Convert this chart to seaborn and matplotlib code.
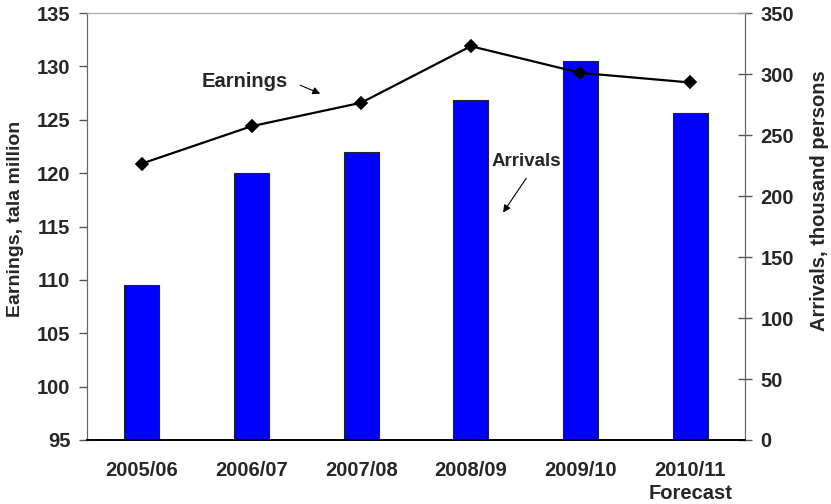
import numpy as np
import pandas as pd
import matplotlib
matplotlib.use("Agg")
import matplotlib.pyplot as plt
from matplotlib.ticker import FixedLocator
import seaborn as sns

# -------------------------------
# Data
# -------------------------------
years = ["2005/06", "2006/07", "2007/08", "2008/09", "2009/10", "2010/11\nForecast"]
earnings = [120.9, 124.4, 126.6, 131.9, 129.4, 128.5]   # tala million (left axis)
arrivals = [127, 219, 236, 279, 311, 268]               # thousand persons (right axis)

df = pd.DataFrame({"Year": years, "Earnings": earnings, "Arrivals": arrivals})

# -------------------------------
# Style
# -------------------------------
sns.set_style("white")
plt.rcParams["font.family"] = ["Liberation Sans", "DejaVu Sans"]
plt.rcParams["font.weight"] = "bold"
plt.rcParams["axes.labelweight"] = "bold"

FS = 14.5

fig = plt.figure(figsize=(8.31, 5.04), dpi=100)
ax = fig.add_axes([0.1047, 0.127, 0.7918, 0.847])
ax2 = ax.twinx()

# bars on the right axis
sns.barplot(data=df, x="Year", y="Arrivals", ax=ax2, color="#0000FF",
            width=0.32, edgecolor="#222222", linewidth=0.8, saturation=1)

# earnings line on the left axis
sns.pointplot(data=df, x="Year", y="Earnings", ax=ax, color="black",
              markers="D", markersize=6, linewidth=1.6)

ax.set_zorder(ax2.get_zorder() + 1)
ax.patch.set_visible(False)

ax.set_xlim(-0.5, 5.5)
ax.set_ylim(95, 135)
ax2.set_ylim(0, 350)

left_ticks = np.arange(95, 136, 5)
right_ticks = np.arange(0, 351, 50)
ax.set_yticks(left_ticks)
ax.set_yticklabels([str(t) for t in left_ticks], fontsize=FS, fontweight="bold")
ax2.set_yticks(right_ticks)
ax2.set_yticklabels([str(t) for t in right_ticks], fontsize=FS, fontweight="bold")
ax.set_xticks(range(len(years)))
ax.set_xticklabels(years, fontsize=FS, fontweight="bold", linespacing=1.25)

ax.set_xlabel("")
ax2.set_xlabel("")
ax.set_ylabel("Earnings, tala million", fontsize=14, fontweight="bold", va="center")
ax.yaxis.set_label_coords(-0.109, 0.518)
ax2.set_ylabel("Arrivals, thousand persons", fontsize=FS, fontweight="bold", va="center")
ax2.yaxis.set_label_coords(1.1125, 0.56)

# ticks
ax.tick_params(axis="x", which="major", length=0, pad=15)
ax.xaxis.set_minor_locator(FixedLocator(np.arange(-0.5, 6.0, 1.0)))
ax.tick_params(axis="x", which="minor", length=6, width=1, color="black", direction="out")
ax.tick_params(axis="y", length=6, width=1, color="#555555", pad=6)
ax2.tick_params(axis="y", length=10, width=1, color="#555555", direction="inout", pad=6)

# spines
for a in (ax, ax2):
    a.spines["bottom"].set_color("black")
    a.spines["bottom"].set_linewidth(1.2)
    a.spines["left"].set_color("#666666")
    a.spines["right"].set_color("#666666")
    a.spines["top"].set_color("#aaaaaa")
    a.spines["top"].set_linewidth(0.8)

# annotations
ax.text(0.94, 128.55, "Earnings", ha="center", va="center", fontsize=FS, fontweight="bold")
ax.annotate("", xy=(1.65, 127.35), xytext=(1.42, 128.35),
            arrowprops=dict(arrowstyle="-|>", color="black", lw=0.8, mutation_scale=11))
ax.text(3.51, 121.05, "Arrivals", ha="center", va="center", fontsize=13.5, fontweight="bold")
ax.annotate("", xy=(3.28, 116.1), xytext=(3.52, 119.75),
            arrowprops=dict(arrowstyle="-|>", color="black", lw=0.8, mutation_scale=11))

fig.savefig("out.png", dpi=100)
